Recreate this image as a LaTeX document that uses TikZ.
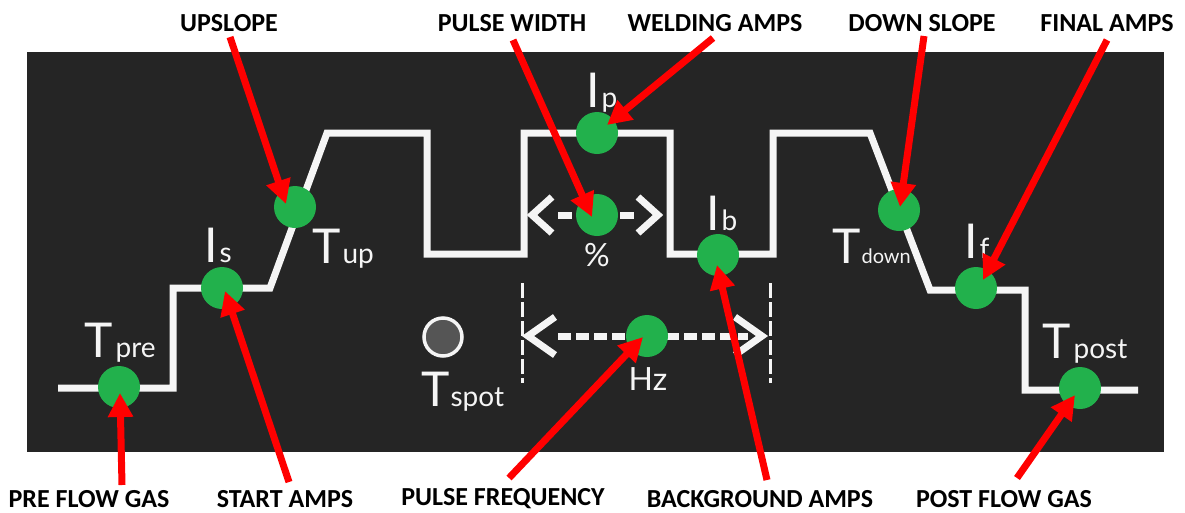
\documentclass[tikz,border=0pt]{standalone}
\usepackage{fontspec}
\setmainfont{Carlito}
\newfontfamily\wavefont{Lato}
\usetikzlibrary{arrows.meta,calc}
\definecolor{panel}{RGB}{37,37,37}
\definecolor{dotgreen}{RGB}{34,177,76}
\definecolor{redarrow}{RGB}{255,0,0}
\definecolor{wave}{RGB}{245,245,245}
\definecolor{spotgray}{RGB}{85,85,85}
\newcommand{\wvbig}[1]{{\fontsize{48}{48}\selectfont #1}}
\newcommand{\wvsub}[1]{{\fontsize{28}{28}\selectfont #1}}
\newcommand{\wvsmall}[1]{{\fontsize{20}{20}\selectfont #1}}
\begin{document}
\begin{tikzpicture}[x=1pt,y=-1pt,
  callout/.style={font=\fontsize{26}{26}\selectfont\bfseries, text=black, inner sep=0pt},
  pointer/.style={draw=redarrow, line width=7pt, -{Triangle[length=24pt,width=24pt]}},
  dot/.style={circle, fill=dotgreen, minimum size=42pt, inner sep=0pt},
  wavelbl/.style={text=wave, inner sep=0pt, anchor=base west, font=\wavefont},
  centerlbl/.style={text=wave, inner sep=0pt, font=\wavefont\fontsize{32}{32}\selectfont},
  waveline/.style={draw=wave, line width=7pt, line join=miter},
  chev/.style={draw=wave, line width=7pt, line join=miter},
  dashline/.style={draw=wave, line width=7pt},
  marker/.style={draw=wave, line width=3pt, dash pattern=on 15pt off 4pt}]
\useasboundingbox (0,0) rectangle (1185,512);
\fill[white] (0,0) rectangle (1185,512);
\fill[panel] (27,52) rectangle (1164,452);

% waveform
\draw[waveline] (58,388) -- (173,388) -- (173,288) -- (270,288) -- (327,133)
  -- (427,133) -- (427,254) -- (524,254) -- (524,133) -- (670,133) -- (670,254)
  -- (773,254) -- (773,133) -- (870,133) -- (930,290) -- (1025,290) -- (1025,390)
  -- (1138,390);

% dashed markers and arrows
\coordinate (mk1t) at (522,283); \coordinate (mk1b) at (522,383);
\coordinate (mk2t) at (770,283); \coordinate (mk2b) at (770,383);
\draw[marker] (mk1t) -- (mk1b);
\draw[marker] (mk2t) -- (mk2b);

\coordinate (pctL) at (532,215); \coordinate (pctR) at (658,215);
\draw[dashline, dash pattern=on 14pt off 48pt] ($(pctL)+(26,0)$) -- ($(pctR)+(-22,0)$);
\draw[chev] ($(pctL)+(20,-18)$) -- (pctL) -- ($(pctL)+(20,18)$);
\draw[chev] ($(pctR)+(-20,-18)$) -- (pctR) -- ($(pctR)+(-20,18)$);

\coordinate (hzL) at (528,336); \coordinate (hzR) at (762,336);
\draw[dashline, dash pattern=on 13pt off 5pt] ($(hzL)+(30,0)$) -- ($(hzR)+(-14,0)$);
\draw[chev] ($(hzL)+(27,-19)$) -- (hzL) -- ($(hzL)+(27,19)$);
\draw[chev] ($(hzR)+(-27,-19)$) -- (hzR) -- ($(hzR)+(-27,19)$);

% spot
\node[circle, fill=spotgray, draw=wave, line width=3.5pt, minimum size=38pt, inner sep=0pt] (cspot) at (443,337) {};

% green dots
\node[dot] (cpre) at (119,387) {};
\node[dot] (cs) at (222,288) {};
\node[dot] (cup) at (295,207) {};
\node[dot] (cp) at (597,133) {};
\node[dot] (cpw) at (597,215) {};
\node[dot] (cb) at (718,255) {};
\node[dot] (chz) at (647,336) {};
\node[dot] (cdown) at (899,210) {};
\node[dot] (cf) at (976,288) {};
\node[dot] (cpost) at (1080,388) {};

% waveform labels
\node[wavelbl] (lpre) at (84,357) {\wvbig{T}\kern3pt\wvsub{pre}};
\node[wavelbl] (ls) at (204,262) {\wvbig{I}\kern2pt\wvsub{s}};
\node[wavelbl] (lup) at (312,263) {\wvbig{T}\kern2pt\wvsub{up}};
\node[wavelbl] (lp) at (586,107) {\wvbig{I}\kern2pt\wvsub{p}};
\node[wavelbl] (lb) at (706,230) {\wvbig{I}\kern2pt\wvsub{b}};
\node[wavelbl] (ldown) at (832,263) {\wvbig{T}\kern1pt\wvsmall{down}};
\node[wavelbl] (lf) at (964,258) {\wvbig{I}\kern2pt\wvsub{f}};
\node[wavelbl] (lpost) at (1042,358) {\wvbig{T}\kern3pt\wvsub{post}};
\node[wavelbl] (lspot) at (421,406) {\wvbig{T}\kern1pt\wvsub{spot}};
\node[centerlbl] (lpct) at (597,255) {\%};
\node[centerlbl, anchor=base] (lhz) at (648,390) {Hz};

% callout labels
\node[callout] (tup) at (229,23) {UPSLOPE};
\node[callout] (tpw) at (512,23) {PULSE WIDTH};
\node[callout] (twa) at (715,23) {WELDING AMPS};
\node[callout] (tds) at (922,23) {DOWN SLOPE};
\node[callout] (tfa) at (1107,23) {FINAL AMPS};
\node[callout] (bpre) at (89,499) {PRE FLOW GAS};
\node[callout] (bsa) at (285,499) {START AMPS};
\node[callout] (bpf) at (503,499) {PULSE FREQUENCY};
\node[callout] (bba) at (760,499) {BACKGROUND AMPS};
\node[callout] (bpost) at (1004,499) {POST FLOW GAS};

% arrow ends
\coordinate (a1s) at (230,37);  \coordinate (a1e) at (286,204);
\coordinate (a2s) at (513,40);  \coordinate (a2e) at (592,217);
\coordinate (a3s) at (713,38);  \coordinate (a3e) at (607,125);
\coordinate (a4s) at (924,36);  \coordinate (a4e) at (900,207);
\coordinate (a5s) at (1107,40); \coordinate (a5e) at (983,280);
\coordinate (b1s) at (122,485); \coordinate (b1e) at (120,393);
\coordinate (b2s) at (289,482); \coordinate (b2e) at (225,291);
\coordinate (b3s) at (509,478); \coordinate (b3e) at (643,337);
\coordinate (b4s) at (767,480); \coordinate (b4e) at (717,265);
\coordinate (b5s) at (1017,478);\coordinate (b5e) at (1075,395);

\draw[pointer] (a1s) -- (a1e);
\draw[pointer] (a2s) -- (a2e);
\draw[pointer] (a3s) -- (a3e);
\draw[pointer] (a4s) -- (a4e);
\draw[pointer] (a5s) -- (a5e);
\draw[pointer] (b1s) -- (b1e);
\draw[pointer] (b2s) -- (b2e);
\draw[pointer] (b3s) -- (b3e);
\draw[pointer] (b4s) -- (b4e);
\draw[pointer] (b5s) -- (b5e);
\end{tikzpicture}
\end{document}
